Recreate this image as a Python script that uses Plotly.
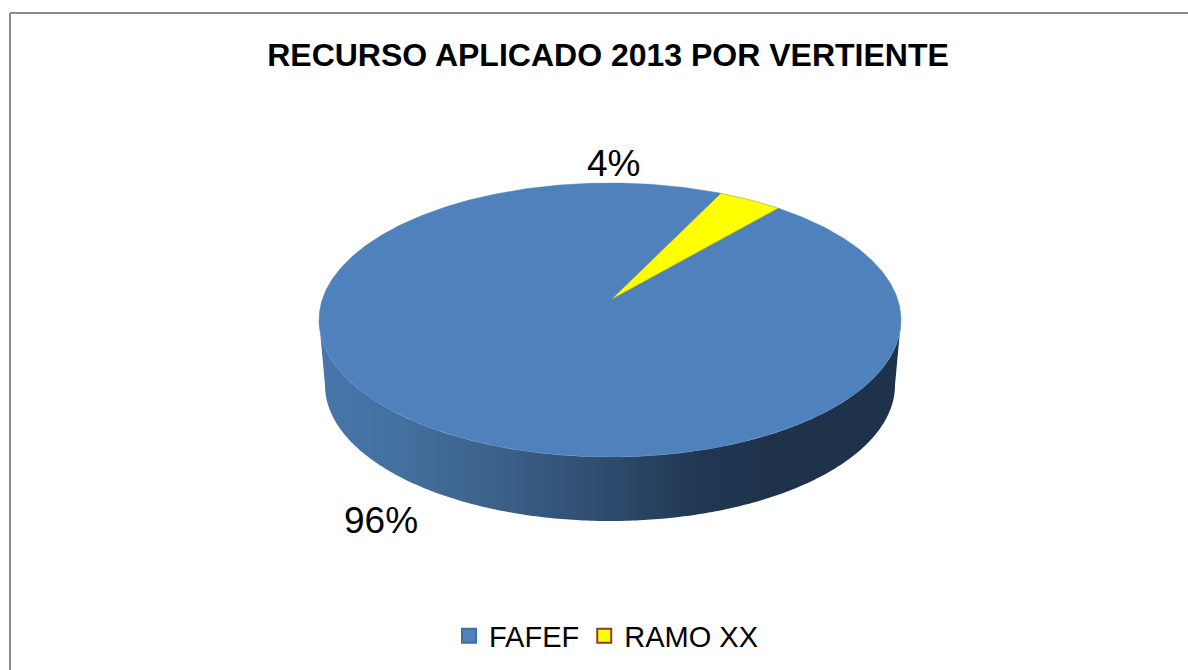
import numpy as np
import plotly.graph_objects as go

# ---- data ----
categories = ["FAFEF", "RAMO XX"]
values = [96, 4]
slice_colors = ["#4f81bd", "#ffff00"]
marker_lines = ["#3f6fa8", "#953735"]
title_text = "RECURSO APLICADO 2013 POR VERTIENTE"

# ---- projection of the tilted disc (pixel-like axis units) ----
W, H = 1188, 670
CX, CY, RX, RY = 610.0, 320.0, 291.0, 137.0      # top rim
BCY, BRX, BRY = 385.0, 285.0, 136.0              # bottom rim
AX, AY = 612.0, 299.0                            # projected centre of the disc
START = 25.5                                     # first slice edge, degrees clockwise from the back
PERSP = 0.125


def param(a_deg):
    a = np.radians(a_deg)
    return a - PERSP * np.sin(a)


def top_rim(a_deg):
    t = param(a_deg)
    return CX + RX * np.sin(t), CY - RY * np.cos(t)


total = sum(values)
sweep = [360.0 * v / total for v in values]

fig = go.Figure()

# side wall of the disc: front half of the rim, seen between the two ellipses
t = np.radians(np.linspace(90, 270, 241))
tx, ty = CX + RX * np.sin(t), CY - RY * np.cos(t)
bx, by = CX + BRX * np.sin(t[::-1]), BCY - BRY * np.cos(t[::-1])
fig.add_trace(go.Scatter(
    x=np.r_[tx, bx], y=np.r_[ty, by], mode="none", fill="toself", showlegend=False,
    hoverinfo="skip",
    fillgradient=dict(type="horizontal", colorscale=[
        [0.00, "#4875ab"], [0.14, "#44709f"], [0.31, "#3b6089"],
        [0.48, "#2f4d70"], [0.65, "#213852"], [0.78, "#1f324c"], [1.00, "#1f324c"]]),
))

# top face: RAMO XX starts at START and runs clockwise, FAFEF takes the rest
edge = START + sweep[1]
a_blue = np.linspace(edge, START + 360.0, 721)
bx2, by2 = top_rim(a_blue)
fig.add_trace(go.Scatter(
    x=np.r_[AX, bx2, AX], y=np.r_[AY, by2, AY], mode="lines", fill="toself",
    fillcolor=slice_colors[0], line=dict(color=slice_colors[0], width=0.5),
    showlegend=False, name=categories[0], hoverinfo="skip",
))
a_yel = np.linspace(START, edge, 40)
yx, yy = top_rim(a_yel)
fig.add_trace(go.Scatter(
    x=np.r_[AX, yx, AX], y=np.r_[AY, yy, AY], mode="lines", fill="toself",
    fillcolor=slice_colors[1], line=dict(color="#9a9a40", width=0.6),
    showlegend=False, name=categories[1], hoverinfo="skip",
))

# legend entries
for name, col, lc in zip(categories, slice_colors, marker_lines):
    fig.add_trace(go.Scatter(
        x=[None], y=[None], mode="markers", name=name,
        marker=dict(symbol="square", size=14, color=col, line=dict(color=lc, width=2)),
    ))

LABEL_FONT = dict(family="Liberation Sans, Arial, sans-serif", size=37, color="#000000")
fig.add_annotation(x=613, y=163, text=f"{values[1]}%", showarrow=False, font=LABEL_FONT)
fig.add_annotation(x=381, y=520, text=f"{values[0]}%", showarrow=False, font=LABEL_FONT)

BORDER = dict(color="#8c8c8c", width=2)
fig.add_shape(type="line", x0=10, x1=10, y0=13, y1=H, line=BORDER, layer="below")
fig.add_shape(type="line", x0=10, x1=W, y0=13, y1=13, line=BORDER, layer="below")

fig.update_layout(
    width=W, height=H, autosize=False,
    margin=dict(l=0, r=0, t=0, b=0),
    paper_bgcolor="white", plot_bgcolor="white",
    title=dict(text=f"<b>{title_text}</b>", x=608 / W, y=1 - 55 / H, xanchor="center", yanchor="middle",
               font=dict(family="Liberation Sans, Arial, sans-serif", size=32, color="#000000")),
    xaxis=dict(range=[0, W], visible=False, fixedrange=True),
    yaxis=dict(range=[H, 0], visible=False, fixedrange=True),
    legend=dict(orientation="h", x=449 / W, y=1 - 636 / H, xanchor="left", yanchor="middle",
                font=dict(family="Liberation Sans, Arial, sans-serif", size=29, color="#000000"),
                itemwidth=30,
                bgcolor="rgba(0,0,0,0)", tracegroupgap=0),
    showlegend=True,
)

fig.write_html("out.html", config={"displayModeBar": False},
               post_script="document.body.style.margin='0';document.body.style.overflow='hidden';")
